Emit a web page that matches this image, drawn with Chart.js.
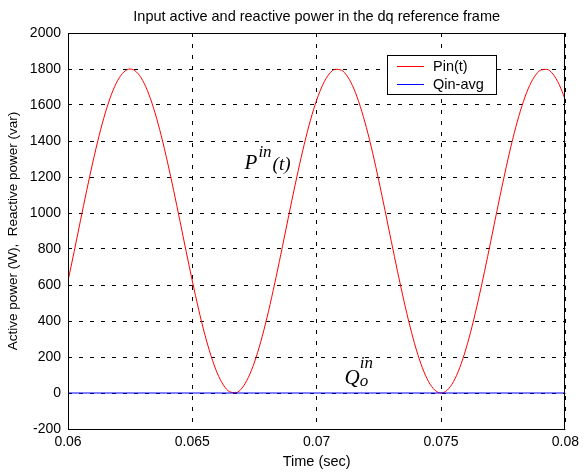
<!DOCTYPE html>
<html><head><meta charset="utf-8">
<script src="https://cdn.jsdelivr.net/npm/chart.js@4.4.0/dist/chart.umd.min.js"></script>
<style>html,body{margin:0;padding:0;background:#fff;}canvas{display:block;}</style>
</head><body>
<canvas id="c" width="584" height="474"></canvas>
<script>
// ---- data ----
const timeSec = [0.06000,0.06025,0.06050,0.06075,0.06100,0.06125,0.06150,0.06175,0.06200,0.06225,
0.06250,0.06275,0.06300,0.06325,0.06350,0.06375,0.06400,0.06425,0.06450,0.06475,
0.06500,0.06525,0.06550,0.06575,0.06600,0.06625,0.06650,0.06675,0.06700,0.06725,
0.06750,0.06775,0.06800,0.06825,0.06850,0.06875,0.06900,0.06925,0.06950,0.06975,
0.07000,0.07025,0.07050,0.07075,0.07100,0.07125,0.07150,0.07175,0.07200,0.07225,
0.07250,0.07275,0.07300,0.07325,0.07350,0.07375,0.07400,0.07425,0.07450,0.07475,
0.07500,0.07525,0.07550,0.07575,0.07600,0.07625,0.07650,0.07675,0.07700,0.07725,
0.07750,0.07775,0.07800,0.07825,0.07850,0.07875,0.07900,0.07925,0.07950,0.07975,0.08000];
const pinW = [622,787,957,1124,1283,1429,1556,1660,1737,1784,
1800,1784,1737,1660,1556,1429,1283,1124,957,787,
622,466,326,207,111,44,7,2,28,86,
172,284,418,569,731,900,1069,1231,1382,1516,
1628,1714,1772,1798,1793,1756,1689,1593,1474,1334,
1178,1013,843,676,517,371,244,140,63,16,
0,16,63,140,244,371,517,676,843,1013,
1178,1334,1474,1593,1689,1756,1793,1798,1772,1714,1628];
const qTime = [0.06, 0.08];
const qinVar = [0, 0];
const seriesLabels = ['Pin(t)', 'Qin-avg'];
const xTicks = [0.06, 0.065, 0.07, 0.075, 0.08];
const xTickLabels = ['0.06', '0.065', '0.07', '0.075', '0.08'];
const yTicks = [-200, 0, 200, 400, 600, 800, 1000, 1200, 1400, 1600, 1800, 2000];
const yTickLabels = ['-200', '0', '200', '400', '600', '800', '1000', '1200', '1400', '1600', '1800', '2000'];
const titleText = 'Input active and reactive power in the dq reference frame';
const xTitle = 'Time (sec)';
const yTitle = 'Active power (W),  Reactive power (var)';

const SANS = '"Liberation Sans", Arial, Helvetica, sans-serif';
const SERIF = '"Liberation Serif", "Times New Roman", serif';

const decor = {
  id: 'decor',
  afterDraw(chart) {
    const {ctx, chartArea: a, scales} = chart;
    ctx.save();
    // axes box
    ctx.strokeStyle = '#000'; ctx.lineWidth = 1; ctx.setLineDash([]);
    ctx.strokeRect(Math.round(a.left) + 0.5, Math.round(a.top) + 0.5, Math.round(a.right - a.left) - 1, Math.round(a.bottom - a.top));
    // title
    ctx.fillStyle = '#000';
    ctx.font = '14.5px ' + SANS;
    ctx.textAlign = 'center'; ctx.textBaseline = 'alphabetic';
    ctx.fillText(titleText, (a.left + a.right) / 2, 21);
    // legend
    const lx = 387.5, ly = 55.5, lw = 109, lh = 39;
    ctx.fillStyle = '#fff'; ctx.fillRect(lx, ly, lw, lh);
    ctx.strokeStyle = '#000'; ctx.strokeRect(lx, ly, lw, lh);
    ctx.font = '14.5px ' + SANS; ctx.textAlign = 'left'; ctx.textBaseline = 'middle';
    chart.data.datasets.forEach((ds, i) => {
      const yy = 66.5 + i * 18;
      ctx.strokeStyle = ds.borderColor; ctx.lineWidth = 1;
      ctx.beginPath(); ctx.moveTo(397, yy); ctx.lineTo(424, yy); ctx.stroke();
      ctx.fillStyle = '#000'; ctx.fillText(ds.label, 433, yy + 0.5);
    });
    // annotations
    ctx.textBaseline = 'alphabetic'; ctx.fillStyle = '#000';
    let px = scales.x.getPixelForValue(0.0671), py = scales.y.getPixelForValue(1244);
    ctx.font = 'italic 21px ' + SERIF; ctx.fillText('P', px, py);
    px += ctx.measureText('P').width + 1;
    ctx.font = 'italic 17px ' + SERIF; ctx.fillText('in', px, py - 12);
    px += ctx.measureText('in').width + 1;
    ctx.font = 'italic 19px ' + SERIF; ctx.fillText('(t)', px, py + 1);
    let qx = scales.x.getPixelForValue(0.07112), qy = scales.y.getPixelForValue(50);
    ctx.font = 'italic 21px ' + SERIF; ctx.fillText('Q', qx, qy);
    qx += ctx.measureText('Q').width;
    ctx.font = 'italic 17px ' + SERIF; ctx.fillText('in', qx, qy - 16);
    ctx.font = 'italic 17px ' + SERIF; ctx.fillText('o', qx, qy + 2);
    ctx.restore();
  }
};

new Chart(document.getElementById('c'), {
  type: 'line',
  data: {
    datasets: [
      { label: seriesLabels[0], data: timeSec.map((t, i) => ({x: t, y: pinW[i]})),
        borderColor: '#ff0000', borderWidth: 1, pointRadius: 0, cubicInterpolationMode: 'monotone', order: 1 },
      { label: seriesLabels[1], data: qTime.map((t, i) => ({x: t, y: qinVar[i]})),
        borderColor: '#0000ff', borderWidth: 1, pointRadius: 0, order: 0 }
    ]
  },
  options: {
    responsive: false, animation: false, devicePixelRatio: 1,
    layout: {padding: {left: 0, right: 16, top: 33, bottom: 0}},
    plugins: {legend: {display: false}, tooltip: {enabled: false}, title: {display: false}},
    scales: {
      x: {
        type: 'linear', min: 0.06, max: 0.08,
        afterBuildTicks: s => { s.ticks = xTicks.map(v => ({value: v})); },
        afterFit: s => { s.height = 45; },
        ticks: {callback: (v, i) => xTickLabels[i], color: '#000', font: {family: SANS, size: 14}, padding: 5, maxRotation: 0, autoSkip: false},
        grid: {color: '#000', lineWidth: 1, drawTicks: false},
        border: {display: false, dash: [4, 7]},
        title: {display: true, text: xTitle, color: '#000', font: {family: SANS, size: 14.5}, padding: {top: 0, bottom: 3}}
      },
      y: {
        type: 'linear', min: -200, max: 2000,
        afterBuildTicks: s => { s.ticks = yTicks.map(v => ({value: v})); },
        afterFit: s => { s.width = 68; },
        ticks: {callback: (v, i) => yTickLabels[i], color: '#000', font: {family: SANS, size: 14}, padding: 7, autoSkip: false},
        grid: {color: '#000', lineWidth: 1, drawTicks: false},
        border: {display: false, dash: [4, 7]},
        title: {display: true, text: yTitle, color: '#000', font: {family: SANS, size: 13.5}, padding: {top: 5, bottom: 0}}
      }
    }
  },
  plugins: [decor]
});
</script>
</body></html>
